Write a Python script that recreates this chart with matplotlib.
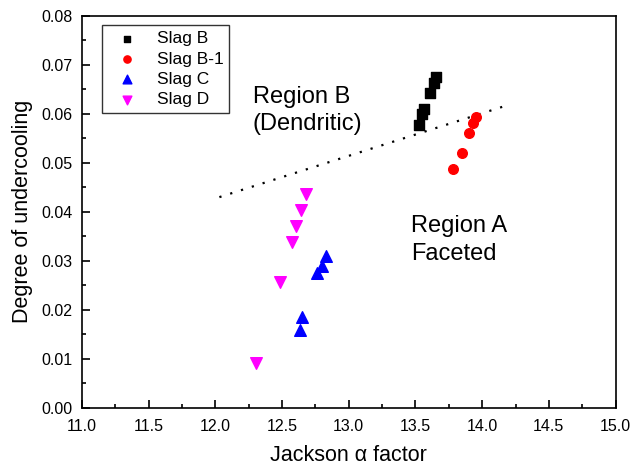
import matplotlib.pyplot as plt
from matplotlib.ticker import MultipleLocator

plt.rcParams['font.family'] = ['Liberation Sans', 'DejaVu Sans']

# data
slag_b_x = [13.652, 13.642, 13.612, 13.562, 13.552, 13.524]
slag_b_y = [0.0674, 0.0663, 0.0643, 0.0609, 0.0599, 0.0577]

slag_b1_x = [13.951, 13.931, 13.901, 13.846, 13.781]
slag_b1_y = [0.0594, 0.0582, 0.0560, 0.0519, 0.0487]

slag_c_x = [12.833, 12.803, 12.763, 12.653, 12.633]
slag_c_y = [0.0309, 0.0290, 0.0276, 0.0186, 0.0159]

slag_d_x = [12.683, 12.640, 12.603, 12.573, 12.483, 12.306]
slag_d_y = [0.0436, 0.0404, 0.0371, 0.0339, 0.0256, 0.0092]

boundary_x = [12.03, 14.15]
boundary_y = [0.0430, 0.0614]

fig = plt.figure(figsize=(6.32, 4.68), dpi=100)
ax = fig.add_axes([0.1297, 0.1282, 0.8443, 0.8383])

ax.plot(boundary_x, boundary_y, color='black', linestyle=(0, (1, 4.1)), linewidth=1.6)

ax.scatter(slag_b_x, slag_b_y, marker='s', s=45, color='black', label='Slag B', zorder=3)
ax.scatter(slag_b1_x, slag_b1_y, marker='o', s=48, color='red', label='Slag B-1', zorder=3)
ax.scatter(slag_c_x, slag_c_y, marker='^', s=70, color='blue', label='Slag C', zorder=3)
ax.scatter(slag_d_x, slag_d_y, marker='v', s=70, color='magenta', label='Slag D', zorder=3)

ax.text(12.28, 0.0622, 'Region B', fontsize=17)
ax.text(12.28, 0.0567, '(Dendritic)', fontsize=17)
ax.text(13.47, 0.0359, 'Region A', fontsize=17)
ax.text(13.47, 0.0302, 'Faceted', fontsize=17)

ax.set_xlim(11.0, 15.0)
ax.set_ylim(0.0, 0.08)
ax.xaxis.set_major_locator(MultipleLocator(0.5))
ax.xaxis.set_minor_locator(MultipleLocator(0.25))
ax.yaxis.set_major_locator(MultipleLocator(0.01))
ax.yaxis.set_minor_locator(MultipleLocator(0.005))
ax.xaxis.set_major_formatter('{x:.1f}')
ax.yaxis.set_major_formatter('{x:.2f}')
ax.tick_params(which='both', direction='in', labelsize=11.5, width=1.2)
ax.tick_params(which='major', length=6)
ax.tick_params(which='minor', length=3)
ax.tick_params(axis='x', which='major', pad=8)
ax.tick_params(axis='y', which='major', pad=7)
for sp in ax.spines.values():
    sp.set_linewidth(1.2)

ax.set_xlabel('Jackson \u03b1 factor', fontsize=15.5, labelpad=8)
ax.set_ylabel('Degree of undercooling', fontsize=15.5, labelpad=6)

leg = ax.legend(loc='upper left', bbox_to_anchor=(0.0375, 0.976), borderaxespad=0,
                fontsize=12.5, markerscale=0.75, fancybox=False, edgecolor='#333333',
                framealpha=1, handletextpad=0.6, borderpad=0.35, labelspacing=0.3,
                handlelength=2.2)
leg.get_frame().set_linewidth(1.0)

plt.savefig('out.png', dpi=100)
